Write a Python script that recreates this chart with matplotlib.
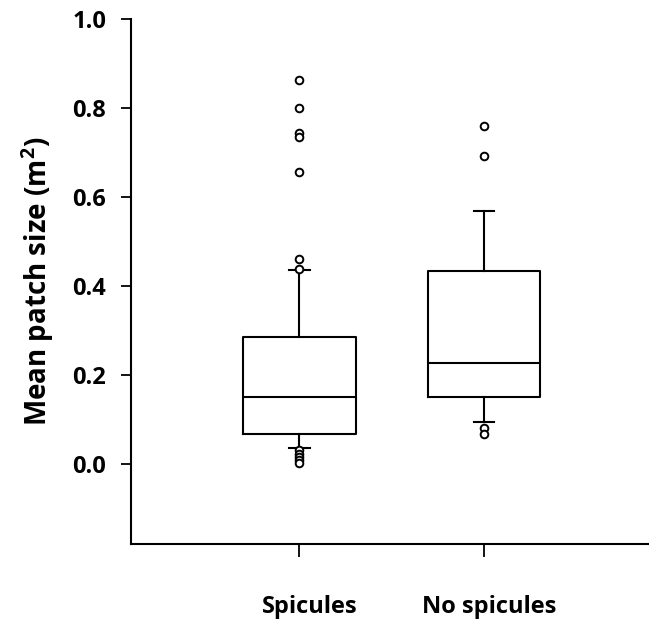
import matplotlib
matplotlib.use('Agg')
import matplotlib.pyplot as plt
import matplotlib.transforms as mtransforms

# box summaries
groups = ['Spicules', 'No spicules']
q1 = [0.067, 0.151]
med = [0.151, 0.227]
q3 = [0.285, 0.434]
whislo = [0.036, 0.094]
whishi = [0.436, 0.569]
fliers_spicules = [0.863, 0.800, 0.744, 0.735, 0.656, 0.461, 0.438,
                   0.030, 0.022, 0.015, 0.008, 0.003]
fliers_nospicules = [0.760, 0.692, 0.081, 0.067]

plt.rcParams.update({
    'font.family': 'Open Sans',
    'font.weight': 'bold',
    'mathtext.fontset': 'custom',
    'mathtext.rm': 'Open Sans:bold',
    'mathtext.it': 'Open Sans:bold',
    'mathtext.bf': 'Open Sans:bold',
    'mathtext.default': 'rm',
})

stats = []
for i, name in enumerate(groups):
    stats.append({
        'label': name,
        'q1': q1[i], 'med': med[i], 'q3': q3[i],
        'whislo': whislo[i], 'whishi': whishi[i],
        'fliers': [fliers_spicules, fliers_nospicules][i],
    })

fig = plt.figure(figsize=(6.49, 6.31), dpi=100)
ax = fig.add_axes([0.202, 0.138, 0.80, 0.832])

lw = 1.5
ax.bxp(stats, positions=[1, 2], widths=0.61, capwidths=0.11,
       boxprops=dict(color='black', linewidth=lw),
       medianprops=dict(color='black', linewidth=lw),
       whiskerprops=dict(color='black', linewidth=lw),
       capprops=dict(color='black', linewidth=lw),
       flierprops=dict(marker='o', markersize=5.5, markerfacecolor='white',
                       markeredgecolor='black', markeredgewidth=1.4))

ax.set_xlim(0.087, 2.902)
ax.set_ylim(-0.18, 1.0)
ax.set_yticks([0.0, 0.2, 0.4, 0.6, 0.8, 1.0])
ax.set_yticklabels(['0.0', '0.2', '0.4', '0.6', '0.8', '1.0'])
ax.set_xticks([1, 2])
ax.set_xticklabels(groups)

for s in ['top', 'right']:
    ax.spines[s].set_visible(False)
for s in ['left', 'bottom']:
    ax.spines[s].set_linewidth(1.5)

ax.tick_params(axis='y', direction='out', length=7, width=1.3, pad=11, labelsize=17)
ax.tick_params(axis='x', direction='out', length=9, width=1.3, pad=28, labelsize=17)
for t in ax.get_xticklabels() + ax.get_yticklabels():
    t.set_fontweight('bold')

# category labels sit slightly right of their ticks in the original
for t, dx in zip(ax.get_xticklabels(), [10, 5]):
    t.set_transform(t.get_transform() +
                    mtransforms.ScaledTranslation(dx / 100, 0, fig.dpi_scale_trans))

ax.set_ylabel('Mean patch size (m$^2$)', fontsize=20, fontweight='bold')
ax.yaxis.set_label_coords(-0.145, 0.5)

fig.savefig('out.png', dpi=100)
